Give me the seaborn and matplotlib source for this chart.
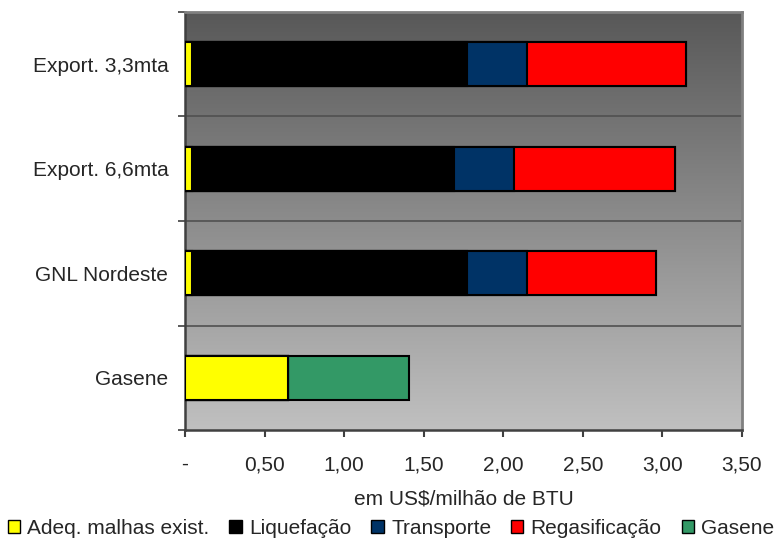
import numpy as np
import pandas as pd
import matplotlib
matplotlib.use("Agg")
import matplotlib.pyplot as plt
from matplotlib.patches import Patch
import seaborn as sns

# Dados (US$/milhão de BTU)
categorias = ['Export. 3,3mta', 'Export. 6,6mta', 'GNL Nordeste', 'Gasene']
componentes = ['Adeq. malhas exist.', 'Liquefação', 'Transporte', 'Regasificação', 'Gasene']
adeq = [0.045, 0.045, 0.045, 0.65]
liquefacao = [1.725, 1.645, 1.725, 0.0]
transporte = [0.38, 0.38, 0.38, 0.0]
regasificacao = [1.00, 1.01, 0.81, 0.0]
gasene = [0.0, 0.0, 0.0, 0.76]
cores = ['#FFFF00', '#000000', '#003366', '#FF0000', '#339966']
xticks = [0, 0.5, 1.0, 1.5, 2.0, 2.5, 3.0, 3.5]
xticklabels = ['-', '0,50', '1,00', '1,50', '2,00', '2,50', '3,00', '3,50']

df = pd.DataFrame({'Categoria': categorias,
                   componentes[0]: adeq,
                   componentes[1]: liquefacao,
                   componentes[2]: transporte,
                   componentes[3]: regasificacao,
                   componentes[4]: gasene})
# acumulado para empilhar
acum = df[componentes].cumsum(axis=1)

sns.set_style('white')
plt.rcParams['font.family'] = ['Liberation Sans', 'DejaVu Sans']
fs = 15

fig = plt.figure(figsize=(7.82, 5.42), dpi=100)
ax = fig.add_axes([0.2366, 0.2066, 0.9488 - 0.2366, 0.9779 - 0.2066])

# fundo em degradê
grad = np.linspace(0, 1, 256).reshape(-1, 1)
cmap = matplotlib.colors.LinearSegmentedColormap.from_list('g', ['#c0c0c0', '#585858'])
ax.imshow(grad, extent=[0, 1, 0, 1], transform=ax.transAxes, origin='lower',
          aspect='auto', cmap=cmap, zorder=0)

# barras empilhadas: desenha do maior acumulado para o menor
for comp, cor in list(zip(componentes, cores))[::-1]:
    sns.barplot(x=acum[comp], y=df['Categoria'], order=categorias, orient='h',
                color=cor, width=0.42, edgecolor='black', linewidth=1.5,
                saturation=1, ax=ax, zorder=3)

ax.set_xlim(0, 3.5)
ax.set_ylim(3.5, -0.5)
for yb in [0.5, 1.5, 2.5]:
    ax.axhline(yb, color='#505050', lw=1.2, zorder=1)

ax.set_xticks(xticks)
ax.set_xticklabels(xticklabels, fontsize=fs)
ax.set_yticks(range(len(categorias)))
ax.set_yticklabels(categorias, fontsize=fs)
ax.set_yticks([-0.5, 0.5, 1.5, 2.5, 3.5], minor=True)
ax.tick_params(axis='y', which='major', length=0, pad=12)
ax.tick_params(axis='y', which='minor', length=5, width=1.2, color='#404040', left=True)
ax.tick_params(axis='x', length=5, width=1.5, color='#404040', bottom=True, pad=13)
ax.set_xlabel('em US$/milhão de BTU', fontsize=fs, labelpad=11)
ax.set_ylabel('')

for lado in ['left', 'bottom']:
    ax.spines[lado].set_color('#404040')
    ax.spines[lado].set_linewidth(1.8)
for lado in ['top', 'right']:
    ax.spines[lado].set_color('#808080')
    ax.spines[lado].set_linewidth(2)

handles = [Patch(facecolor=c, edgecolor='black', linewidth=1) for c in cores]
fig.legend(handles, componentes, loc='lower center', bbox_to_anchor=(0.5, -0.016),
           ncol=5, frameon=False, fontsize=fs, handlelength=0.6, handleheight=0.6,
           handletextpad=0.35, columnspacing=0.95, borderaxespad=0.2)

fig.savefig('out.png', dpi=100)
